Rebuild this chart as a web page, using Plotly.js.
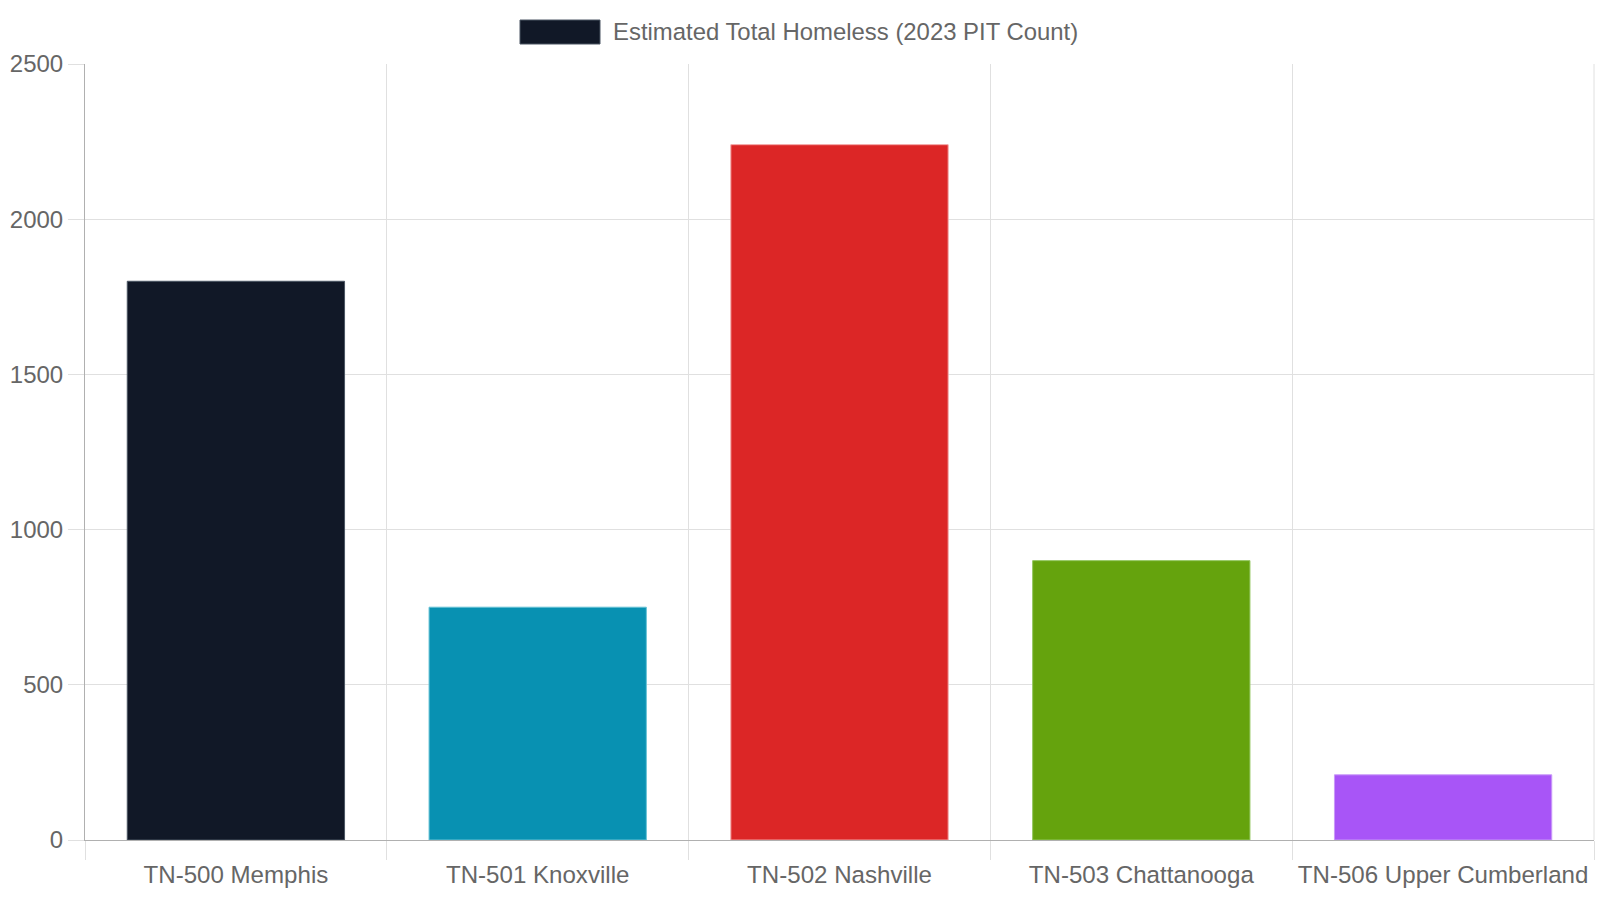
<!DOCTYPE html>
<html>
<head>
<meta charset="utf-8">
<script src="https://cdn.plot.ly/plotly-3.0.1.min.js"></script>
<style>
html,body{margin:0;padding:0;background:#fff;}
#chart{width:1600px;height:900px;}
</style>
</head>
<body>
<div id="chart"></div>
<script>
var categories = ["TN-500 Memphis", "TN-501 Knoxville", "TN-502 Nashville", "TN-503 Chattanooga", "TN-506 Upper Cumberland"];
var homeless = [1800, 750, 2240, 900, 210];
var barColors = ["#111827", "#0891b2", "#dc2626", "#65a30d", "#a855f7"];
var barBorders = ["#4b5563", "#67c3d6", "#f3a3a3", "#93c65e", "#c99af8"];
var seriesName = "Estimated Total Homeless (2023 PIT Count)";
var yTicks = [0, 500, 1000, 1500, 2000, 2500];

var W = 1600, H = 900;
var M = {l: 85, r: 6, t: 64, b: 60};
var pw = W - M.l - M.r, ph = H - M.t - M.b;
function px(x) { return (x - M.l) / pw; }
function py(y) { return (H - M.b - y) / ph; }

var font = "Liberation Sans, Arial, Helvetica, sans-serif";

var trace = {
  type: "bar",
  x: categories,
  y: homeless,
  name: seriesName,
  marker: {color: barColors, line: {color: barBorders, width: 1}},
  hoverinfo: "none"
};

var layout = {
  width: W, height: H,
  margin: M,
  paper_bgcolor: "#ffffff",
  plot_bgcolor: "#ffffff",
  showlegend: false,
  bargap: 0.28,
  font: {family: font, size: 24, color: "#666666"},
  xaxis: {
    type: "category",
    tickson: "boundaries",
    ticks: "outside",
    ticklen: 19,
    tickwidth: 1,
    tickcolor: "#e0e0e0",
    ticklabelstandoff: 13,
    showgrid: true,
    gridcolor: "#e0e0e0",
    gridwidth: 1,
    showline: true,
    linecolor: "#b0b0b0",
    linewidth: 1,
    tickfont: {family: font, size: 24.1, color: "#666666"},
    fixedrange: true
  },
  yaxis: {
    range: [0, 2500],
    tickvals: yTicks,
    ticktext: yTicks.map(String),
    ticks: "outside",
    ticklen: 16,
    tickwidth: 1,
    tickcolor: "#e0e0e0",
    showgrid: true,
    gridcolor: "#e0e0e0",
    gridwidth: 1,
    zeroline: true,
    zerolinecolor: "#b0b0b0",
    zerolinewidth: 1,
    showline: true,
    linecolor: "#b0b0b0",
    linewidth: 1,
    tickfont: {family: font, size: 24, color: "#666666"},
    fixedrange: true
  },
  shapes: [
    {type: "rect", xref: "paper", yref: "paper",
     x0: px(520), x1: px(600), y0: py(44), y1: py(20),
     fillcolor: barColors[0], line: {color: barBorders[0], width: 1}},
    {type: "line", xref: "paper", yref: "paper",
     x0: 1, x1: 1, y0: 0, y1: 1, line: {color: "#e0e0e0", width: 1}}
  ],
  annotations: [
    {xref: "paper", yref: "paper", x: px(611), y: py(32),
     xanchor: "left", yanchor: "middle", showarrow: false,
     text: seriesName, font: {family: font, size: 23.9, color: "#666666"}}
  ]
};

Plotly.newPlot("chart", [trace], layout, {displayModeBar: false, staticPlot: true});
</script>
</body>
</html>
